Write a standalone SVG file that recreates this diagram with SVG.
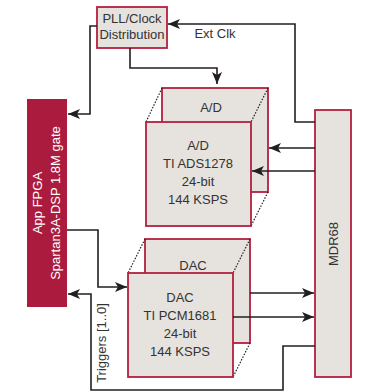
<svg xmlns="http://www.w3.org/2000/svg" width="369" height="392" viewBox="0 0 369 392">
<style>
.box{fill:#e6e2dd;stroke:#b3203f;stroke-width:1.8}
.fpga{fill:#ab1b3e;stroke:none}
.t{font-family:"Liberation Sans",Arial,sans-serif;font-size:13px;fill:#333;text-anchor:middle}
.w{fill:#fff}
.c{fill:none;stroke:#231f20;stroke-width:1.6}
.d{fill:none;stroke:#231f20;stroke-width:1.2;stroke-dasharray:1.5 1.5}
</style>
<defs>
<marker id="ah" viewBox="0 0 12 10" refX="12" refY="5" markerWidth="12" markerHeight="10" markerUnits="userSpaceOnUse" orient="auto">
<path d="M0,0 L12,5 L0,10 L3,5 Z" fill="#231f20"/>
</marker>
</defs>
<g id="fpga">
<rect class="fpga" x="27" y="99" width="40" height="208"/>
<text class="t w" transform="translate(42,203) rotate(-90)">App FPGA</text>
<text class="t w" transform="translate(60,203) rotate(-90)">Spartan3A-DSP 1.8M gate</text>
</g>
<g id="pll">
<rect class="box" x="97" y="7" width="70" height="41"/>
<text class="t" x="132" y="23">PLL/Clock</text>
<text class="t" x="132" y="39">Distribution</text>
</g>
<g id="ad">
<rect class="box" x="162" y="88" width="106" height="104"/>
<text class="t" x="211" y="112">A/D</text>
<line class="d" x1="162" y1="88" x2="146" y2="122"/>
<line class="d" x1="268" y1="88" x2="251" y2="122"/>
<line class="d" x1="268" y1="192" x2="251" y2="226"/>
<rect class="box" x="146" y="122" width="105" height="104"/>
<text class="t" x="198" y="150">A/D</text>
<text class="t" x="198" y="168">TI ADS1278</text>
<text class="t" x="198" y="186">24-bit</text>
<text class="t" x="198" y="204">144 KSPS</text>
</g>
<g id="dac">
<rect class="box" x="145" y="239" width="105" height="104"/>
<text class="t" x="193" y="270">DAC</text>
<line class="d" x1="145" y1="239" x2="128" y2="273"/>
<line class="d" x1="250" y1="239" x2="233" y2="273"/>
<line class="d" x1="250" y1="343" x2="233" y2="377"/>
<rect class="box" x="128" y="273" width="105" height="104"/>
<text class="t" x="180" y="302">DAC</text>
<text class="t" x="180" y="320">TI PCM1681</text>
<text class="t" x="180" y="338">24-bit</text>
<text class="t" x="180" y="356">144 KSPS</text>
</g>
<g id="mdr">
<rect class="box" x="315" y="110" width="36" height="267"/>
<text class="t" transform="translate(338,244) rotate(-90)">MDR68</text>
</g>
<g id="connectors">
<path class="c" d="M315,122 H295 V24 H168" marker-end="url(#ah)"/>
<text class="t" x="215" y="38">Ext Clk</text>
<path class="c" d="M97,26 H90 V114 H68" marker-end="url(#ah)"/>
<path class="c" d="M130,48 V68 H217 V84" marker-end="url(#ah)"/>
<path class="c" d="M315,148 H269" marker-end="url(#ah)"/>
<path class="c" d="M315,171 H252" marker-end="url(#ah)"/>
<path class="c" d="M67,230 H98 V287 H127" marker-end="url(#ah)"/>
<path class="c" d="M250,293 H314" marker-end="url(#ah)"/>
<path class="c" d="M233,317 H314" marker-end="url(#ah)"/>
<path class="c" d="M315,346 H283 V390 H91 V294 H68" marker-end="url(#ah)"/>
<text class="t" transform="translate(106,343) rotate(-90)">Triggers [1..0]</text>
</g>
</svg>
